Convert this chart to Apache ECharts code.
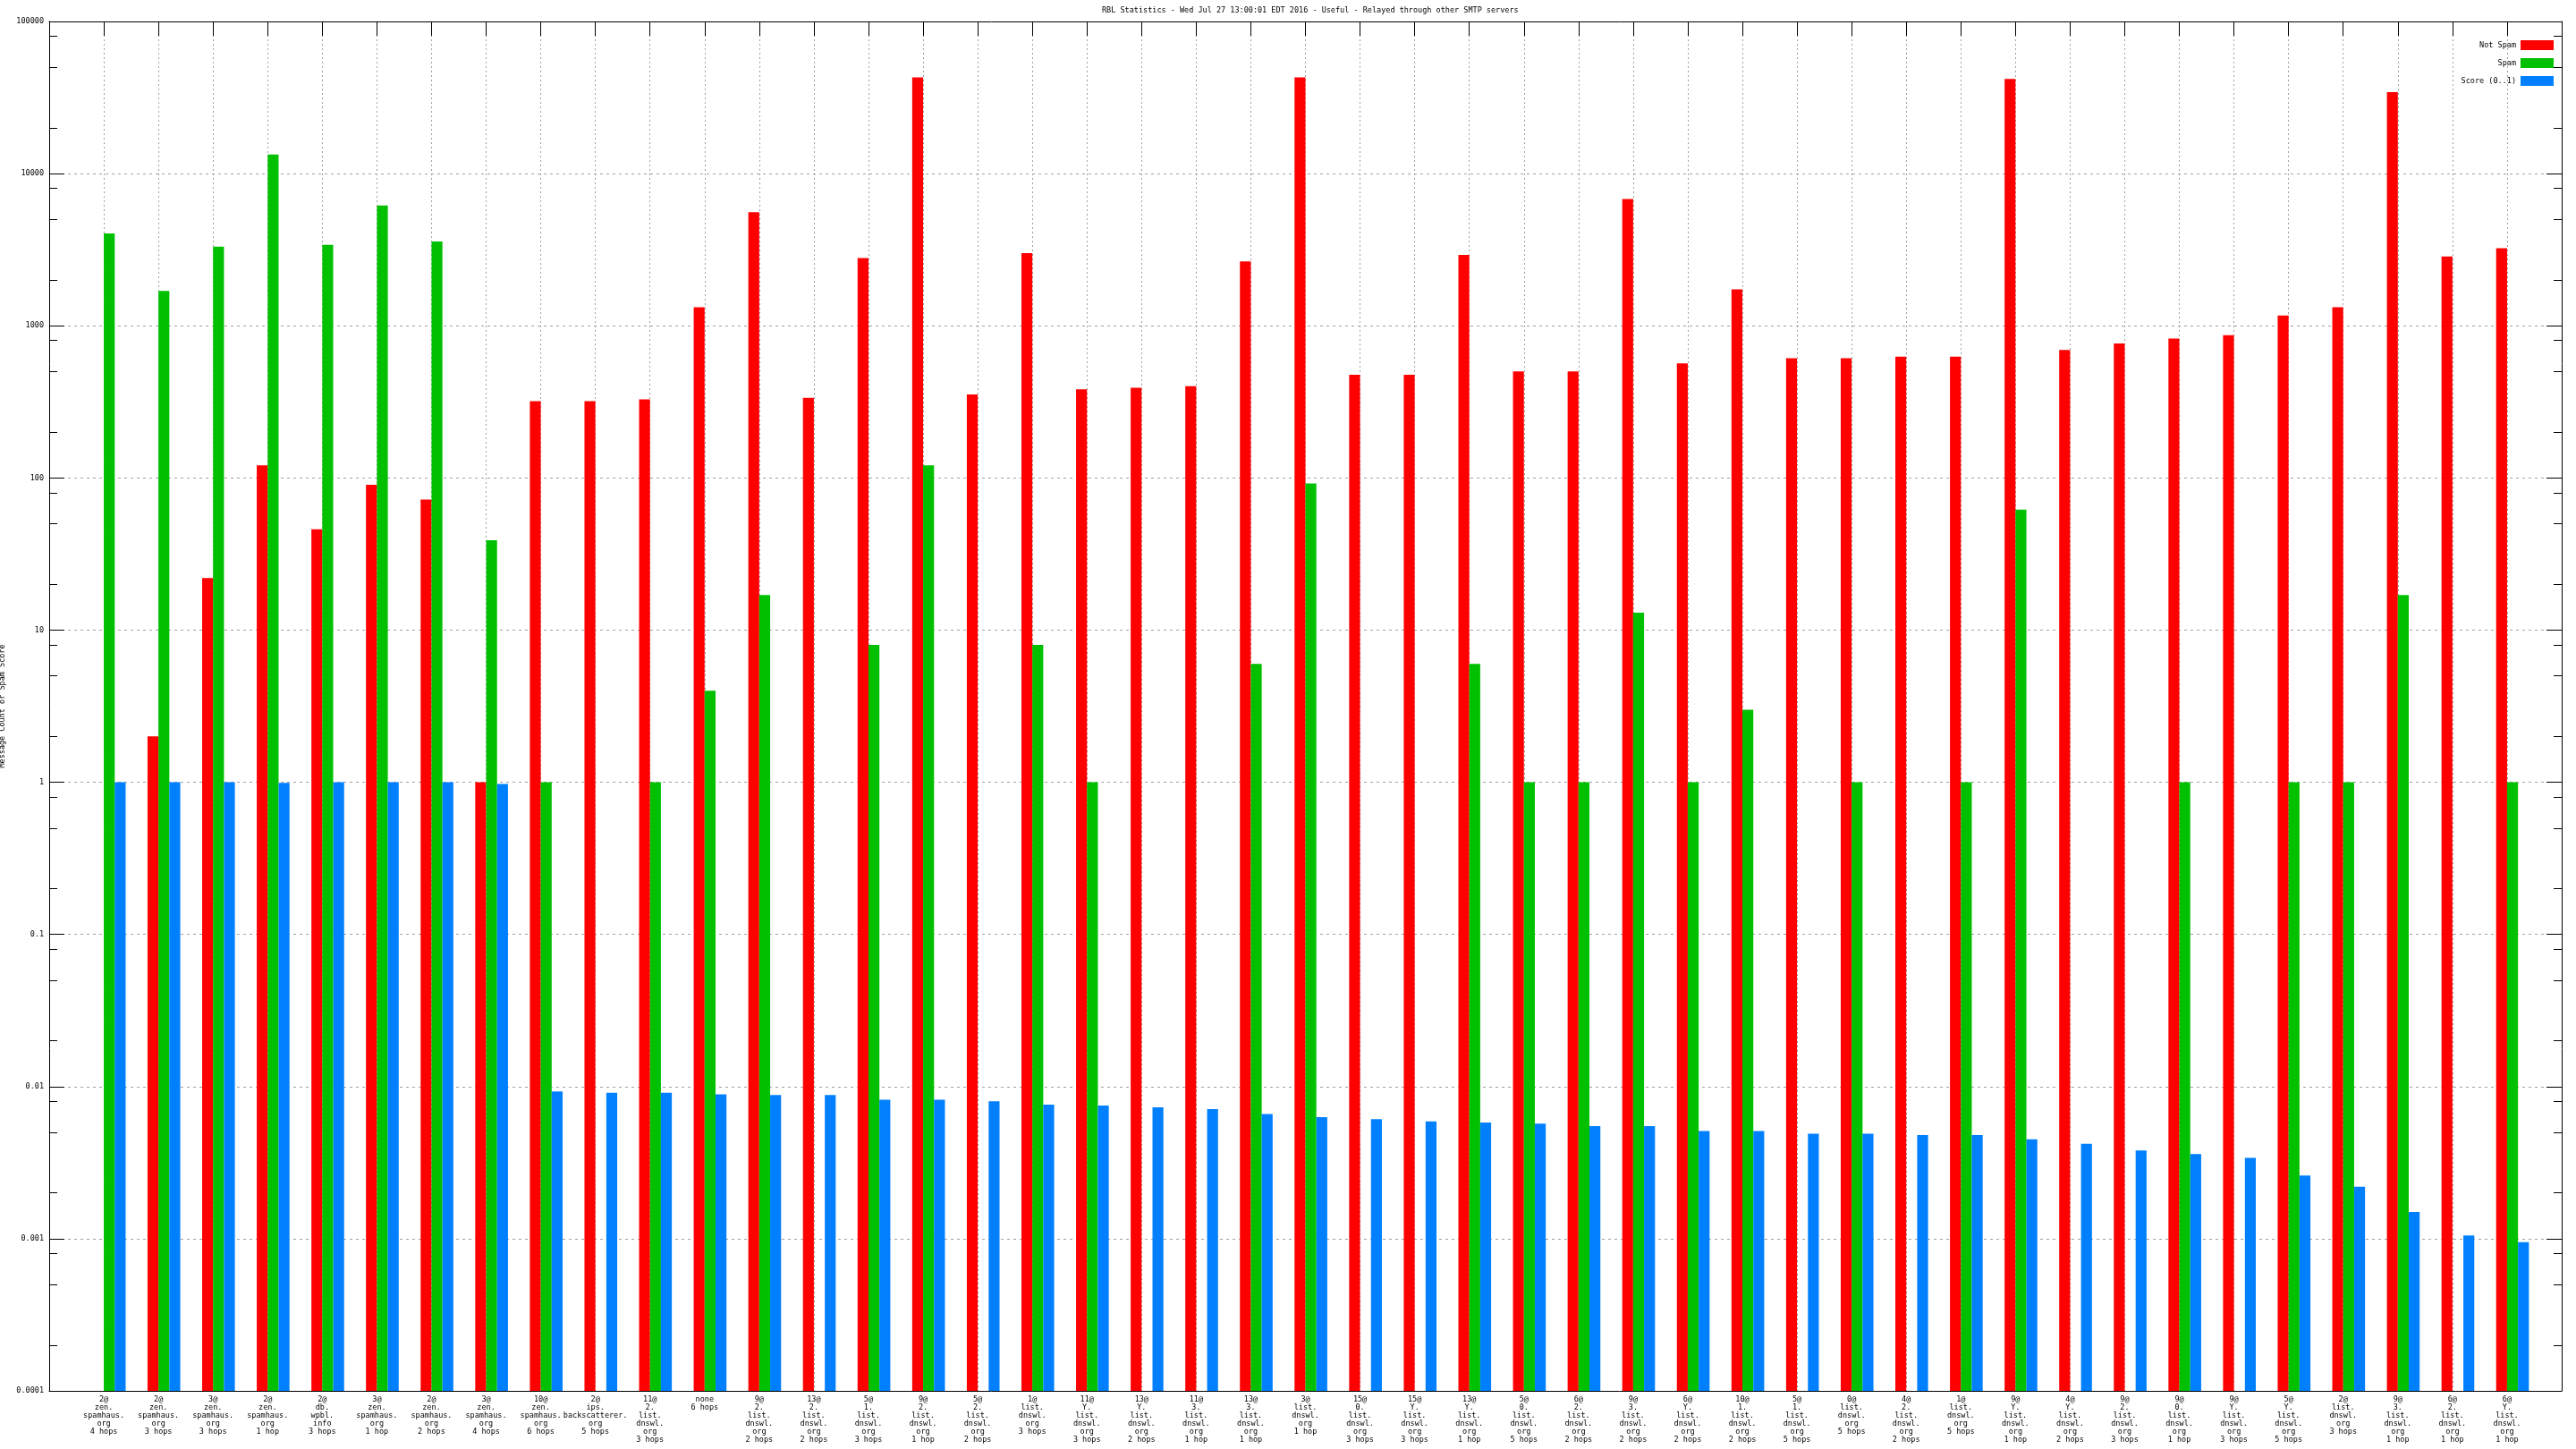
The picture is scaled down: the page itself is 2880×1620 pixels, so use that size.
<!DOCTYPE html>
<html>
<head>
<meta charset="utf-8">
<script src="https://cdn.jsdelivr.net/npm/echarts@6/dist/echarts.min.js"></script>
<style>
html,body{margin:0;padding:0;background:#fff;}
#chart{width:2880px;height:1620px;}
</style>
</head>
<body>
<div id="chart"></div>
<script>
const categories = [
  "2@\nzen.\nspamhaus.\norg\n4 hops",
  "2@\nzen.\nspamhaus.\norg\n3 hops",
  "3@\nzen.\nspamhaus.\norg\n3 hops",
  "2@\nzen.\nspamhaus.\norg\n1 hop",
  "2@\ndb.\nwpbl.\ninfo\n3 hops",
  "3@\nzen.\nspamhaus.\norg\n1 hop",
  "2@\nzen.\nspamhaus.\norg\n2 hops",
  "3@\nzen.\nspamhaus.\norg\n4 hops",
  "10@\nzen.\nspamhaus.\norg\n6 hops",
  "2@\nips.\nbackscatterer.\norg\n5 hops",
  "11@\n2.\nlist.\ndnswl.\norg\n3 hops",
  "none\n6 hops",
  "9@\n2.\nlist.\ndnswl.\norg\n2 hops",
  "13@\n2.\nlist.\ndnswl.\norg\n2 hops",
  "5@\n1.\nlist.\ndnswl.\norg\n3 hops",
  "9@\n2.\nlist.\ndnswl.\norg\n1 hop",
  "5@\n2.\nlist.\ndnswl.\norg\n2 hops",
  "1@\nlist.\ndnswl.\norg\n3 hops",
  "11@\nY.\nlist.\ndnswl.\norg\n3 hops",
  "13@\nY.\nlist.\ndnswl.\norg\n2 hops",
  "11@\n3.\nlist.\ndnswl.\norg\n1 hop",
  "13@\n3.\nlist.\ndnswl.\norg\n1 hop",
  "3@\nlist.\ndnswl.\norg\n1 hop",
  "15@\n0.\nlist.\ndnswl.\norg\n3 hops",
  "15@\nY.\nlist.\ndnswl.\norg\n3 hops",
  "13@\nY.\nlist.\ndnswl.\norg\n1 hop",
  "5@\n0.\nlist.\ndnswl.\norg\n5 hops",
  "6@\n2.\nlist.\ndnswl.\norg\n2 hops",
  "9@\n3.\nlist.\ndnswl.\norg\n2 hops",
  "6@\nY.\nlist.\ndnswl.\norg\n2 hops",
  "10@\n1.\nlist.\ndnswl.\norg\n2 hops",
  "5@\n1.\nlist.\ndnswl.\norg\n5 hops",
  "0@\nlist.\ndnswl.\norg\n5 hops",
  "4@\n2.\nlist.\ndnswl.\norg\n2 hops",
  "1@\nlist.\ndnswl.\norg\n5 hops",
  "9@\nY.\nlist.\ndnswl.\norg\n1 hop",
  "4@\nY.\nlist.\ndnswl.\norg\n2 hops",
  "9@\n2.\nlist.\ndnswl.\norg\n3 hops",
  "9@\n0.\nlist.\ndnswl.\norg\n1 hop",
  "9@\nY.\nlist.\ndnswl.\norg\n3 hops",
  "5@\nY.\nlist.\ndnswl.\norg\n5 hops",
  "2@\nlist.\ndnswl.\norg\n3 hops",
  "9@\n3.\nlist.\ndnswl.\norg\n1 hop",
  "6@\n2.\nlist.\ndnswl.\norg\n1 hop",
  "6@\nY.\nlist.\ndnswl.\norg\n1 hop"
];

const notSpam = [null, 2, 22, 121, 46, 90, 72, 1, 320, 320,
  328, 1322, 5585, 336, 2786, 42950, 354, 3000, 382, 391,
  401, 2649, 42950, 477, 477, 2924, 501, 501, 6810, 567,
  1738, 611, 611, 627, 627, 41880, 693, 766, 825, 866,
  1167, 1322, 34300, 2857, 3236];

const spam = [4045, 1694, 3311, 13340, 3400, 6170, 3575, 39, 1, null,
  1, 4, 17, null, 8, 121, null, 8, 1, null,
  null, 6, 92, null, null, 6, 1, 1, 13, 1,
  3, null, 1, null, 1, 62, null, null, 1, null,
  1, 1, 17, null, 1];

const score = [1, 1, 1, 0.991, 1, 1, 1, 0.975, 0.0093, 0.0091,
  0.0091, 0.0089, 0.0088, 0.0088, 0.0082, 0.0082, 0.0080, 0.0076, 0.0075, 0.0073,
  0.0071, 0.0066, 0.0063, 0.0061, 0.0059, 0.0058, 0.0057, 0.0055, 0.0055, 0.0051,
  0.0051, 0.0049, 0.0049, 0.0048, 0.0048, 0.0045, 0.0042, 0.0038, 0.0036, 0.0034,
  0.0026, 0.0022, 0.0015, 0.00105, 0.00095];

const yTickLabels = ["0.0001", "0.001", "0.01", "0.1", "1", "10", "100", "1000", "10000", "100000"];
const minorMultipliers = [2, 5, 8];

const seriesNames = ["Not Spam", "Spam", "Score (0..1)"];
const seriesColors = ["#ff0000", "#00c000", "#0080ff"];
const titleText = "RBL Statistics - Wed Jul 27 13:00:01 EDT 2016 - Useful - Relayed through other SMTP servers";
const yAxisTitle = "Message Count or Spam Score";

// build
const xCats = [""].concat(categories, [""]);
const pad = arr => [null].concat(arr, [null]);
const ghost = xCats.map(() => null);
const yMin = Number(yTickLabels[0]);
const yMax = Number(yTickLabels[yTickLabels.length - 1]);
const minorTicks = [];
for (let e = -4; e < 5; e++) {
  minorMultipliers.forEach(m => minorTicks.push(Number((m * Math.pow(10, e)).toPrecision(3))));
}

const FONT = "DejaVu Sans Mono";
const FS = 8.5;
const gridGray = "#a0a0a0";

function logAxis(extra) {
  return Object.assign({
    type: "log", logBase: 10, min: yMin, max: yMax, interval: 1, splitNumber: 9,
    startValue: yMin,
    axisLine: { show: true, lineStyle: { color: "#000", width: 1 } },
    axisTick: { show: true, inside: true, length: 17, lineStyle: { color: "#000", width: 1 } },
    axisLabel: { show: false },
    splitLine: { show: false },
    minorTick: { show: false },
    minorSplitLine: { show: false }
  }, extra);
}

const option = {
  backgroundColor: "#ffffff",
  animation: false,
  title: {
    text: titleText, left: 1227, top: 2,
    textStyle: { fontFamily: FONT, fontSize: FS, fontWeight: "normal", color: "#000" }
  },
  legend: {
    data: seriesNames, orient: "vertical", right: 20, top: 40,
    itemWidth: 37, itemHeight: 11, itemGap: 9, align: "right", icon: "rect",
    selectedMode: false,
    textStyle: { fontFamily: FONT, fontSize: FS, color: "#000" }
  },
  grid: { left: 55, top: 24, right: 16, bottom: 65, containLabel: false, outerBoundsMode: "none" },
  xAxis: [
    {
      type: "category", data: xCats, boundaryGap: false, position: "bottom",
      axisLine: { show: true, lineStyle: { color: "#000", width: 1 } },
      axisTick: { show: false },
      axisLabel: { interval: 0, margin: 5, fontFamily: FONT, fontSize: FS, lineHeight: 9, color: "#000", align: "center" },
      splitLine: { show: true, interval: 0, lineStyle: { color: gridGray, width: 1, type: [2, 3] } }
    },
    {
      type: "category", data: xCats, boundaryGap: false, position: "top",
      axisLine: { show: true, lineStyle: { color: "#000", width: 1 } },
      axisTick: { show: true, inside: true, length: 16, interval: 0, lineStyle: { color: "#000" } },
      axisLabel: { show: false },
      splitLine: { show: false }
    }
  ],
  yAxis: [
    logAxis({
      position: "left",
      axisLabel: {
        show: true, margin: 6, fontFamily: FONT, fontSize: FS, color: "#000",
        formatter: v => yTickLabels[Math.round(Math.log10(v)) + 4]
      },
      splitLine: { show: true, lineStyle: { color: gridGray, width: 1, type: [3, 4] } },
      name: yAxisTitle, nameLocation: "middle", nameGap: 48, nameRotate: 90,
      nameMoveOverlap: false,
      nameTextStyle: { fontFamily: FONT, fontSize: FS, color: "#000" }
    }),
    logAxis({ position: "right" }),
    logAxis({
      position: "left", axisLine: { show: false },
      axisTick: { show: true, inside: true, length: 9, customValues: minorTicks, lineStyle: { color: "#000", width: 1 } }
    }),
    logAxis({
      position: "right", axisLine: { show: false },
      axisTick: { show: true, inside: true, length: 9, customValues: minorTicks, lineStyle: { color: "#000", width: 1 } }
    })
  ],
  series: [
    { name: "ghost", type: "bar", data: ghost, barWidth: 12.2, barGap: "0%", silent: true, itemStyle: { color: "rgba(0,0,0,0)" } },
    { name: seriesNames[0], type: "bar", data: pad(notSpam), barWidth: 12.2, barGap: "0%", itemStyle: { color: seriesColors[0] } },
    { name: seriesNames[1], type: "bar", data: pad(spam), barWidth: 12.2, barGap: "0%", itemStyle: { color: seriesColors[1] } },
    { name: seriesNames[2], type: "bar", data: pad(score), barWidth: 12.2, barGap: "0%", itemStyle: { color: seriesColors[2] } }
  ]
};

const chart = echarts.init(document.getElementById("chart"), null, { renderer: "canvas" });
chart.setOption(option);
</script>
</body>
</html>
